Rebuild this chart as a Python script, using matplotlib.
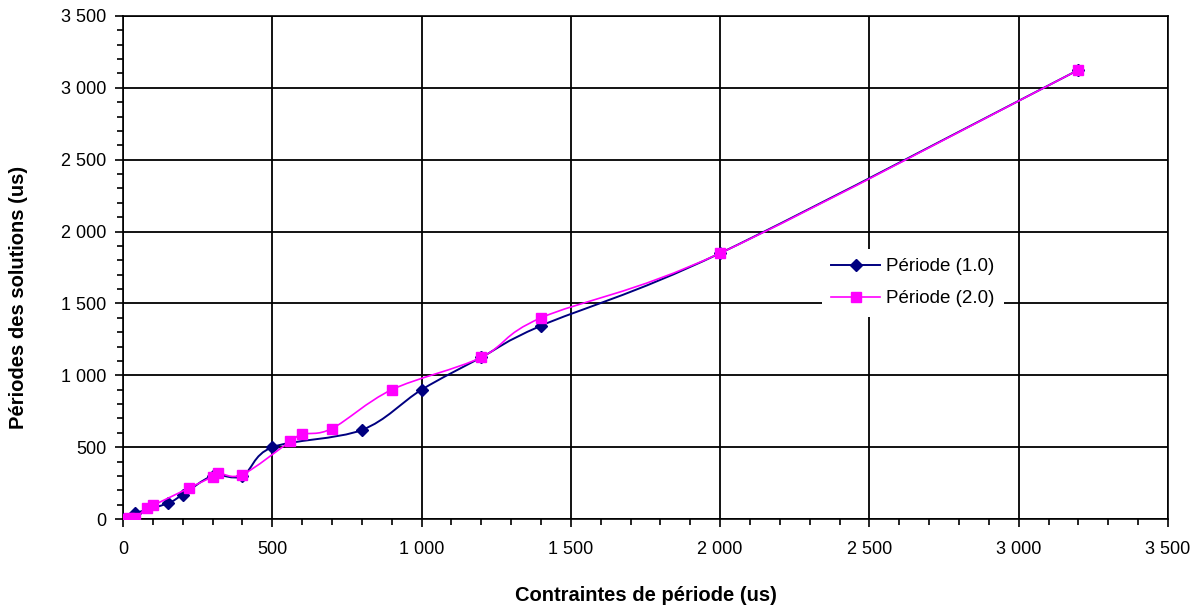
import matplotlib.pyplot as plt
import matplotlib.ticker as ticker
from matplotlib.path import Path
from matplotlib.patches import PathPatch
from matplotlib.lines import Line2D

plt.rcParams['font.family'] = ['Liberation Sans', 'DejaVu Sans']

# Période (1.0)
x1 = [0, 40, 150, 200, 300, 400, 500, 800, 1000, 1200, 1400, 2000, 3200]
y1 = [0, 40, 110, 170, 300, 300, 500, 620, 900, 1125, 1345, 1850, 3125]

# Période (2.0)
x2 = [0, 20, 40, 80, 100, 220, 300, 320, 400, 560, 600, 700, 900, 1200, 1400, 2000, 3200]
y2 = [0, 5, 5, 80, 95, 215, 295, 320, 310, 540, 590, 630, 900, 1125, 1400, 1850, 3125]

navy = '#000080'
pink = '#FF00FF'


def smooth_path(xs, ys):
    # bezier through the points, like the "smoothed line" option of a spreadsheet
    pts = list(zip(xs, ys))
    verts = [pts[0]]
    codes = [Path.MOVETO]
    n = len(pts)
    for i in range(n - 1):
        p0 = pts[max(i - 1, 0)]
        p1 = pts[i]
        p2 = pts[i + 1]
        p3 = pts[min(i + 2, n - 1)]
        c1 = (p1[0] + (p2[0] - p0[0]) / 6, p1[1] + (p2[1] - p0[1]) / 6)
        c2 = (p2[0] - (p3[0] - p1[0]) / 6, p2[1] - (p3[1] - p1[1]) / 6)
        verts += [c1, c2, p2]
        codes += [Path.CURVE4] * 3
    return Path(verts, codes)


fig = plt.figure(figsize=(11.96, 6.10), dpi=100)
ax = fig.add_axes([0.1028, 0.149, 0.8738, 0.8248])

ax.add_patch(PathPatch(smooth_path(x1, y1), facecolor='none', edgecolor=navy, lw=1.4, zorder=3))
ax.plot(x1, y1, linestyle='none', marker='D', color=navy, markersize=6, zorder=4)
ax.add_patch(PathPatch(smooth_path(x2, y2), facecolor='none', edgecolor=pink, lw=1.2, zorder=5))
ax.plot(x2, y2, linestyle='none', marker='s', color=pink, markersize=7, zorder=6)

ax.set_xlim(0, 3500)
ax.set_ylim(0, 3500)

fmt = ticker.FuncFormatter(lambda v, p: f"{int(v):,}".replace(",", " "))
ax.xaxis.set_major_locator(ticker.MultipleLocator(500))
ax.yaxis.set_major_locator(ticker.MultipleLocator(500))
ax.xaxis.set_minor_locator(ticker.MultipleLocator(100))
ax.yaxis.set_minor_locator(ticker.MultipleLocator(100))
ax.xaxis.set_major_formatter(fmt)
ax.yaxis.set_major_formatter(fmt)

ax.tick_params(which='major', direction='out', length=6, width=1.2, colors='black', labelsize=13, pad=6)
ax.tick_params(which='minor', direction='out', length=4, width=1.2, colors='black')
ax.tick_params(axis='x', pad=10)

ax.grid(True, which='major', color='black', linewidth=1.3)
ax.set_axisbelow(True)
for s in ax.spines.values():
    s.set_color('black')
    s.set_linewidth(1.2)

ax.set_xlabel('Contraintes de période (us)', fontsize=14.5, fontweight='bold', labelpad=20)
ax.set_ylabel('Périodes des solutions (us)', fontsize=14.5, fontweight='bold')
ax.yaxis.set_label_coords(-0.091, 0.44)

handles = [
    Line2D([], [], color=navy, lw=1.4, marker='D', markersize=6),
    Line2D([], [], color=pink, lw=1.2, marker='s', markersize=7),
]
leg = ax.legend(handles, ['Période (1.0)', 'Période (2.0)'], loc='upper left',
                bbox_to_anchor=(0.66, 0.556), frameon=True, fontsize=13.5,
                labelspacing=0.8, handlelength=2.6, handletextpad=0.3,
                borderpad=0.5, framealpha=1)
leg.get_frame().set_edgecolor('white')
leg.get_frame().set_linewidth(0)

fig.savefig('out.png', dpi=100)
